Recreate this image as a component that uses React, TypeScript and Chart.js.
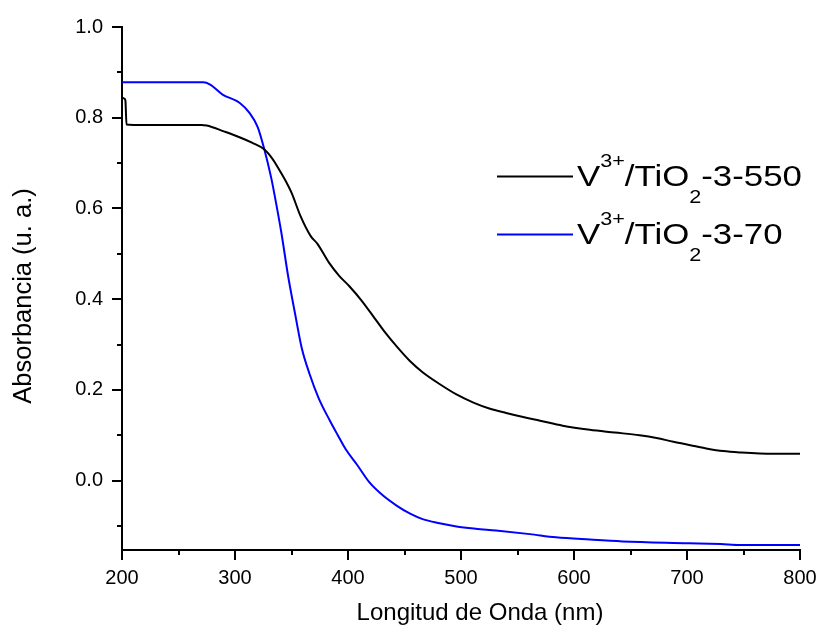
import { useEffect, useRef } from 'react';
import { Chart, registerables } from 'chart.js';

Chart.register(...registerables);

// ---- Data ----
const wavelength550 = [200, 202, 203, 204, 210, 240, 270, 275, 290, 304, 315, 326, 333, 339, 345, 350, 358, 367, 373, 383, 392, 401, 412, 423, 433, 444, 455, 466, 481, 496, 511, 525, 540, 555, 570, 590, 614, 636, 658, 673, 688, 703, 717, 732, 747, 776, 800];
const absorbance550 = [0.845, 0.842, 0.838, 0.785, 0.784, 0.784, 0.784, 0.783, 0.770, 0.757, 0.745, 0.730, 0.710, 0.686, 0.660, 0.635, 0.583, 0.539, 0.522, 0.481, 0.452, 0.429, 0.397, 0.360, 0.326, 0.293, 0.263, 0.239, 0.213, 0.190, 0.172, 0.159, 0.149, 0.140, 0.132, 0.121, 0.112, 0.106, 0.100, 0.094, 0.0855, 0.078, 0.071, 0.065, 0.062, 0.059, 0.059];

const wavelength70 = [200, 240, 272, 278, 289, 304, 313, 320, 326, 332, 335, 341, 347, 353, 359, 366, 374, 384, 391, 398, 408, 419, 431, 443, 455, 466, 481, 496, 513, 531, 561, 584, 614, 643, 702, 730, 747, 800];
const absorbance70 = [0.878, 0.878, 0.878, 0.873, 0.851, 0.833, 0.810, 0.780, 0.730, 0.668, 0.630, 0.547, 0.451, 0.370, 0.293, 0.235, 0.182, 0.132, 0.100, 0.069, 0.035, -0.004, -0.033, -0.055, -0.073, -0.085, -0.094, -0.101, -0.106, -0.110, -0.118, -0.125, -0.130, -0.134, -0.138, -0.140, -0.142, -0.142];

const seriesNames = ['V3+/TiO2-3-550', 'V3+/TiO2-3-70'];
const seriesColors = ['#000000', '#0000ff'];
// label pieces: [base, superscript, middle, subscript, tail]
const seriesLabelParts = [
  ['V', '3+', '/TiO', '2', '-3-550'],
  ['V', '3+', '/TiO', '2', '-3-70'],
];

const xMajorTicks = [200, 300, 400, 500, 600, 700, 800];
const xMinorTicks = [250, 350, 450, 550, 650, 750];
const yMajorTicks = [0.0, 0.2, 0.4, 0.6, 0.8, 1.0];
const yMinorTicks = [-0.1, 0.1, 0.3, 0.5, 0.7, 0.9];

const xTitle = 'Longitud de Onda (nm)';
const yTitle = 'Absorbancia (u. a.)';

const FONT = '"Liberation Sans", Arial, Helvetica, sans-serif';

const decorPlugin = {
  id: 'decor',
  afterDraw(chart: any) {
    const { ctx, chartArea, scales } = chart;
    const x = scales.x;
    const y = scales.y;
    ctx.save();
    ctx.strokeStyle = '#000';
    ctx.lineWidth = 2;
    ctx.lineCap = 'butt';
    const drawX = (v: number, len: number) => {
      const px = Math.round(x.getPixelForValue(v));
      ctx.beginPath();
      ctx.moveTo(px, chartArea.bottom);
      ctx.lineTo(px, chartArea.bottom + len);
      ctx.stroke();
    };
    const drawY = (v: number, len: number) => {
      const py = Math.round(y.getPixelForValue(v));
      ctx.beginPath();
      ctx.moveTo(chartArea.left, py);
      ctx.lineTo(chartArea.left - len, py);
      ctx.stroke();
    };
    xMajorTicks.forEach((v) => drawX(v, 10));
    xMinorTicks.forEach((v) => drawX(v, 5));
    yMajorTicks.forEach((v) => drawY(v, 10));
    yMinorTicks.forEach((v) => drawY(v, 5));

    // axis titles
    ctx.fillStyle = '#000';
    ctx.textAlign = 'center';
    ctx.textBaseline = 'alphabetic';
    ctx.font = `24px ${FONT}`;
    ctx.fillText(xTitle, 480, 620);
    ctx.save();
    ctx.translate(31, 296);
    ctx.rotate(-Math.PI / 2);
    ctx.font = `25.5px ${FONT}`;
    ctx.fillText(yTitle, 0, 0);
    ctx.restore();

    // legend
    const rows = [
      { lineY: 176.5, baseY: 186 },
      { lineY: 234.5, baseY: 244 },
    ];
    rows.forEach((r, i) => {
      ctx.strokeStyle = seriesColors[i];
      ctx.lineWidth = 2;
      ctx.beginPath();
      ctx.moveTo(497, r.lineY);
      ctx.lineTo(573, r.lineY);
      ctx.stroke();
      const [base, sup, mid, sub, tail] = seriesLabelParts[i];
      ctx.save();
      ctx.translate(577, 0);
      ctx.scale(1.2, 1);
      ctx.fillStyle = '#000';
      ctx.textAlign = 'left';
      ctx.textBaseline = 'alphabetic';
      let cx = 0;
      ctx.font = `29px ${FONT}`;
      ctx.fillText(base, cx, r.baseY);
      cx += ctx.measureText(base).width;
      ctx.font = `18px ${FONT}`;
      ctx.fillText(sup, cx, r.baseY - 19);
      cx += ctx.measureText(sup).width;
      ctx.font = `29px ${FONT}`;
      ctx.fillText(mid, cx, r.baseY);
      cx += ctx.measureText(mid).width;
      ctx.font = `18px ${FONT}`;
      ctx.fillText(sub, cx, r.baseY + 17);
      cx += ctx.measureText(sub).width;
      ctx.font = `29px ${FONT}`;
      ctx.fillText(tail, cx, r.baseY);
      ctx.restore();
    });
    ctx.restore();
  },
};

export default function App() {
  const canvasRef = useRef<HTMLCanvasElement | null>(null);

  useEffect(() => {
    if (!canvasRef.current) return;
    const chart = new Chart(canvasRef.current, {
      type: 'line',
      data: {
        datasets: [
          {
            label: seriesNames[0],
            data: wavelength550.map((w, i) => ({ x: w, y: absorbance550[i] })),
            borderColor: seriesColors[0],
            borderWidth: 2,
            pointRadius: 0,
            cubicInterpolationMode: 'monotone',
            fill: false,
          },
          {
            label: seriesNames[1],
            data: wavelength70.map((w, i) => ({ x: w, y: absorbance70[i] })),
            borderColor: seriesColors[1],
            borderWidth: 2,
            pointRadius: 0,
            cubicInterpolationMode: 'monotone',
            fill: false,
          },
        ],
      },
      options: {
        responsive: false,
        animation: false,
        layout: { padding: { top: 27, right: 22, bottom: 0, left: 0 } },
        plugins: {
          legend: { display: false },
          tooltip: { enabled: false },
        },
        scales: {
          x: {
            type: 'linear',
            min: 200,
            max: 800,
            afterBuildTicks: (scale: any) => {
              scale.ticks = xMajorTicks.map((v) => ({ value: v }));
            },
            afterFit: (scale: any) => {
              scale.height = 80;
              scale.paddingLeft = 0;
              scale.paddingRight = 0;
            },
            grid: { display: false, drawTicks: false },
            border: { display: true, color: '#000', width: 2 },
            ticks: {
              color: '#000',
              padding: 16,
              font: { family: FONT, size: 20 },
              maxRotation: 0,
              autoSkip: false,
            },
          },
          y: {
            type: 'linear',
            min: -0.153,
            max: 1.0,
            afterBuildTicks: (scale: any) => {
              scale.ticks = yMajorTicks.map((v) => ({ value: v }));
            },
            afterFit: (scale: any) => {
              scale.width = 122;
              scale.paddingTop = 0;
              scale.paddingBottom = 0;
            },
            grid: { display: false, drawTicks: false },
            border: { display: true, color: '#000', width: 2 },
            ticks: {
              color: '#000',
              padding: 19,
              font: { family: FONT, size: 20 },
              callback: (v: any) => Number(v).toFixed(1),
              autoSkip: false,
            },
          },
        },
      },
      plugins: [decorPlugin],
    });
    return () => chart.destroy();
  }, []);

  return (
    <div style={{ position: 'absolute', left: 0, top: 0, width: 822, height: 630, background: '#fff' }}>
      <canvas ref={canvasRef} width={822} height={630} />
    </div>
  );
}
